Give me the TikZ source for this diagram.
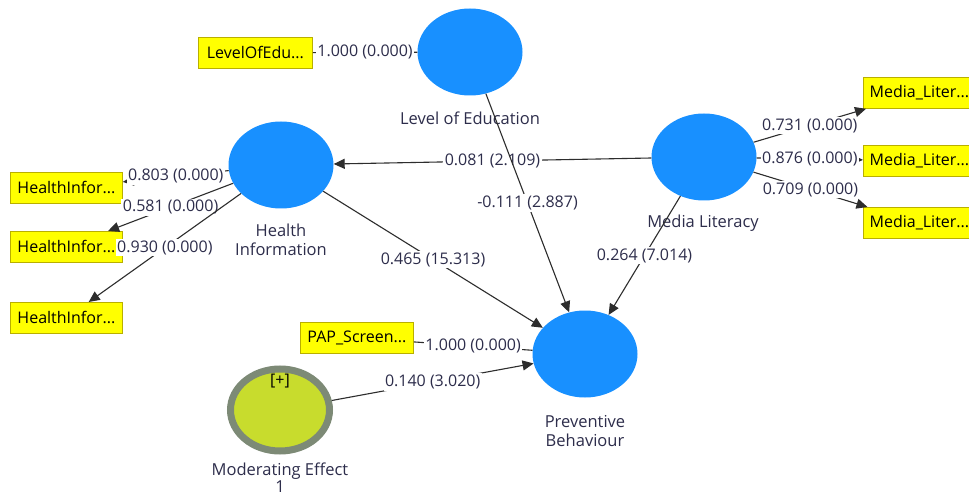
\documentclass[tikz,border=0pt]{standalone}
\usepackage{fontspec}
\setmainfont{Open Sans}
\usetikzlibrary{shapes.geometric,arrows.meta}
\definecolor{lvblue}{RGB}{24,144,255}
\definecolor{boxyel}{RGB}{255,255,0}
\definecolor{boxedge}{RGB}{185,175,0}
\definecolor{modfill}{RGB}{200,220,45}
\definecolor{modedge}{RGB}{125,138,118}
\definecolor{txt}{RGB}{45,45,75}
\definecolor{edgec}{RGB}{45,45,45}
\begin{document}
\begin{tikzpicture}[x=1pt,y=-1pt,
  every node/.style={font=\fontsize{16}{18}\selectfont, text=txt},
  latent/.style={ellipse, fill=lvblue, minimum width=105pt, minimum height=87pt, inner sep=0pt},
  modnode/.style={ellipse, fill=modfill, draw=modedge, line width=7pt, minimum width=99pt, minimum height=82pt, inner sep=0pt},
  ind/.style={rectangle, fill=boxyel, draw=boxedge, line width=0.8pt, minimum width=112pt, minimum height=31pt, anchor=north west, text=black, inner sep=0pt},
  captxt/.style={align=center, inner sep=0pt, font=\fontsize{16.5}{19}\selectfont},
  conn/.style={draw=edgec, line width=1.1pt, -{Triangle[length=11pt,width=10pt]}},
  plain/.style={draw=edgec, line width=1.1pt},
  lbl/.style={fill=white, inner sep=1.5pt, text=txt}
]
\clip (0,0) rectangle (969,497);
\fill[white] (0,0) rectangle (969,497);

% latent variables
\node[latent] (loe) at (470,52) {};
\node[latent] (hi) at (281,165) {};
\node[latent] (ml) at (704,157) {};
\node[latent] (pb) at (585,354) {};
\node[modnode] (mod) at (280,410) {};
\node[inner sep=0pt, text=black] (modplus) at (280,381) {[+]};

% captions
\node[captxt] (loet) at (470,118) {Level of Education};
\node[captxt] (hit) at (281,240) {Health\\Information};
\node[captxt] (mlt) at (703,223) {Media Literacy};
\node[captxt] (pbt) at (585,431) {Preventive\\Behaviour};
\node[captxt, font=\fontsize{16.5}{17}\selectfont] (modt) at (280,478) {Moderating Effect\\1};

% indicators
\node[ind, minimum width=114pt] (loebox) at (198,37) {LevelOfEdu...};
\node[ind] (hi1) at (10,172) {HealthInfor...};
\node[ind] (hi2) at (10,231) {HealthInfor...};
\node[ind] (hi3) at (10,302) {HealthInfor...};
\node[ind] (ml1) at (863,77) {Media\_Liter...};
\node[ind] (ml2) at (863,145) {Media\_Liter...};
\node[ind] (ml3) at (863,207) {Media\_Liter...};
\node[ind, minimum width=113pt] (pap) at (300,322) {PAP\_Screen...};

% structural paths
\draw[conn] (ml) -- node[lbl] {0.081 (2.109)} (hi);
\draw[conn] (loe) -- node[lbl] {-0.111 (2.887)} (pb);
\draw[conn] (hi) -- node[lbl] {0.465 (15.313)} (pb);
\draw[conn] (ml) -- node[lbl] {0.264 (7.014)} (pb);
\draw[conn] (mod) -- node[lbl] {0.140 (3.020)} (pb);

% measurement paths
\draw[plain] (loebox) -- node[lbl] {1.000 (0.000)} (loe);
\draw[plain] (pap) -- node[lbl] {1.000 (0.000)} (pb);
\draw[conn] (hi) -- node[lbl] {0.803 (0.000)} (hi1);
\draw[conn] (hi) -- node[lbl] {0.581 (0.000)} (hi2);
\draw[conn] (hi) -- node[lbl] {0.930 (0.000)} (hi3);
\draw[conn] (ml) -- node[lbl] {0.731 (0.000)} (ml1);
\draw[conn] (ml) -- node[lbl] {0.876 (0.000)} (ml2);
\draw[conn] (ml) -- node[lbl] {0.709 (0.000)} (ml3);
\end{tikzpicture}
\end{document}
